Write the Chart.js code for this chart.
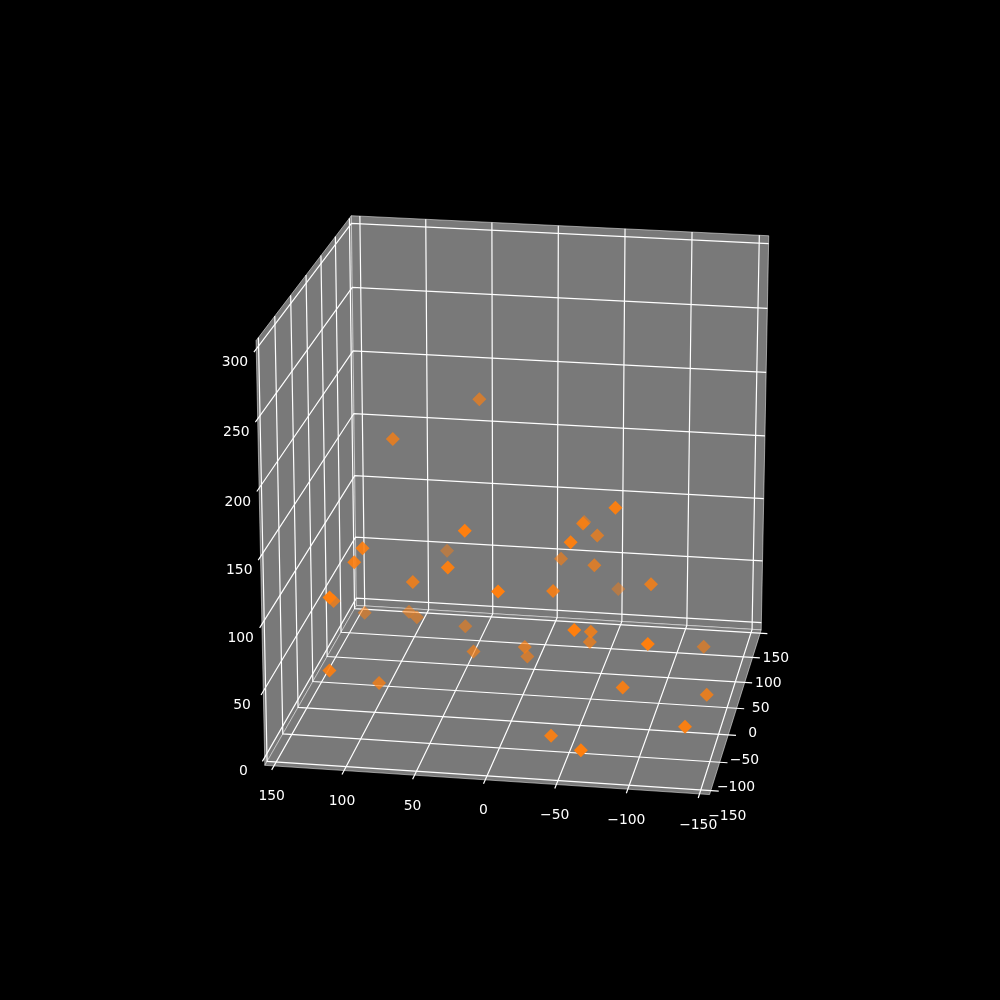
<!DOCTYPE html>
<html>
<head>
<meta charset="utf-8">
<script src="https://cdn.jsdelivr.net/npm/chart.js@4"></script>
<style>
body { margin: 0; background: #000; }
canvas { display: block; }
</style>
</head>
<body>
<canvas id="c" width="1000" height="1000"></canvas>
<script>
// values
const xValues = [39, 92, 15, 84, 32, 98, 104, 110, 137, 73, -8, 137, 103, 97, 60, 44, 123, 104, 1, 6, -33, -17, -54, -50, -30, -52, -50, -85, -48, -99, -61, -56, -47, -112, -124, -87, -140, -135, -37, -66];
const yValues = [41, -14, -150, 150, -123, -95, -95, -150, -14, -41, -150, 95, 95, 95, 95, 41, -95, -14, 14, 55, -68, 68, -123, -41, 95, 14, 14, -123, 150, -41, -150, -41, 14, -150, 68, -95, -41, -123, -100, -150];
const zValues = [206, 191, 175, 46, 137, 137, 126, 120, 64, 93, 132, 13, 16, 12, 7, 9, 43, 2, 26, 2, 103, 76, 161, 145, 96, 116, 93, 188, 23, 102, 107, 63, 33, 100, 13, 44, 20, 29, 6, 18];

const xTicks = [150, 100, 50, 0, -50, -100, -150];
const yTicks = [150, 100, 50, 0, -50, -100, -150];
const zTicks = [0, 50, 100, 150, 200, 250, 300];

const xLim = [-157, 156.5];
const yLim = [-157, 157];
const zLim = [-6, 306];

// box corners (limit index x, y, z) and where they land on the page, used to fit the camera
const boxCorners = [
  [1, 0, 0, 265, 765.5],
  [0, 0, 0, 709, 795],
  [0, 1, 0, 761.5, 629.3],
  [1, 1, 0, 356.5, 605.5],
  [1, 0, 1, 256.5, 340],
  [1, 1, 1, 350.7, 216],
  [0, 1, 1, 769, 236]
];

function fitCamera() {
  const rows = [], rhs = [];
  boxCorners.forEach(c => {
    const X = xLim[c[0]], Y = yLim[c[1]], Z = zLim[c[2]], u = c[3], v = c[4];
    rows.push([X, Y, Z, 1, 0, 0, 0, 0, -u * X, -u * Y, -u * Z]);
    rhs.push(u);
    rows.push([0, 0, 0, 0, X, Y, Z, 1, -v * X, -v * Y, -v * Z]);
    rhs.push(v);
  });
  const n = 11, M = [];
  for (let i = 0; i < n; i++) {
    M[i] = [];
    for (let j = 0; j < n; j++) {
      let s = 0;
      rows.forEach(r => s += r[i] * r[j]);
      M[i][j] = s;
    }
    let s = 0;
    rows.forEach((r, k) => s += r[i] * rhs[k]);
    M[i][n] = s;
  }
  for (let i = 0; i < n; i++) {
    let p = i;
    for (let k = i + 1; k < n; k++) if (Math.abs(M[k][i]) > Math.abs(M[p][i])) p = k;
    [M[i], M[p]] = [M[p], M[i]];
    for (let k = 0; k < n; k++) {
      if (k === i) continue;
      const f = M[k][i] / M[i][i];
      for (let j = i; j <= n; j++) M[k][j] -= f * M[i][j];
    }
  }
  return M.map((r, i) => r[n] / r[i]);
}

const h = fitCamera();

function project(x, y, z) {
  const w = h[8] * x + h[9] * y + h[10] * z + 1;
  return {
    x: (h[0] * x + h[1] * y + h[2] * z + h[3]) / w,
    y: (h[4] * x + h[5] * y + h[6] * z + h[7]) / w
  };
}

const [x0, x1] = xLim, [y0, y1] = yLim, [z0, z1] = zLim;
const tickLen = 7;
const datasets = [];

function addLine(path, color, width, order, extra) {
  datasets.push(Object.assign({
    data: path.map(p => project(p[0], p[1], p[2])),
    showLine: true,
    pointRadius: 0,
    borderColor: color,
    borderWidth: width,
    order: order
  }, extra || {}));
}

// panes
const panes = [
  [[x0, y0, z0], [x1, y0, z0], [x1, y1, z0], [x0, y1, z0], [x0, y0, z0]],
  [[x0, y1, z0], [x1, y1, z0], [x1, y1, z1], [x0, y1, z1], [x0, y1, z0]],
  [[x1, y0, z0], [x1, y1, z0], [x1, y1, z1], [x1, y0, z1], [x1, y0, z0]]
];
panes.forEach(p => addLine(p, "rgba(255,255,255,0.5)", 1, 5, { fill: "shape", backgroundColor: "#797979" }));

// grid
xTicks.forEach(t => addLine([[t, y0 - tickLen, z0], [t, y1, z0], [t, y1, z1]], "#fff", 1.2, 3));
yTicks.forEach(t => addLine([[x0 - 5.5, t, z0], [x1, t, z0], [x1, t, z1]], "#fff", 1.2, 3));
zTicks.forEach(t => addLine([[x0, y1, t], [x1, y1, t], [x1, y0 - tickLen, t]], "#fff", 1.2, 3));

// far points first so the near ones end up on top
const order = xValues.map((_, i) => i).sort((a, b) => yValues[b] - yValues[a]);
datasets.push({
  data: order.map(i => project(xValues[i], yValues[i], zValues[i])),
  pointStyle: "rectRot",
  pointRadius: 7,
  pointBorderWidth: 0,
  pointBackgroundColor: order.map(i => "rgba(255,127,14," + (1 - 0.55 * (yValues[i] + 150) / 300) + ")"),
  order: 0
});

const tickLabels = {
  id: "tickLabels",
  afterDatasetsDraw(chart) {
    const { ctx, scales } = chart;
    const put = (t, p, dx, dy) => {
      ctx.fillText(String(t).replace("-", "\u2212"), scales.x.getPixelForValue(p.x) + dx, scales.y.getPixelForValue(p.y) + dy);
    };
    ctx.save();
    ctx.fillStyle = "#fff";
    ctx.font = '13.9px "DejaVu Sans"';
    ctx.textAlign = "center";
    ctx.textBaseline = "middle";
    xTicks.forEach(t => put(t, project(t, y0 - tickLen, z0), 0, 27));
    yTicks.forEach(t => put(t, project(x0 - 5.5, t, z0), 8.5, 25));
    zTicks.forEach(t => put(t, project(x1, y0 - tickLen, t), -19, 10.5));
    ctx.restore();
  }
};

new Chart(document.getElementById("c"), {
  type: "scatter",
  data: { datasets },
  plugins: [tickLabels],
  options: {
    responsive: false,
    animation: false,
    devicePixelRatio: 1,
    layout: { padding: 0, autoPadding: false },
    plugins: { legend: { display: false }, tooltip: { enabled: false } },
    scales: {
      x: { display: false, min: 0, max: 1000 },
      y: { display: false, min: 0, max: 1000, reverse: true }
    }
  }
});
</script>
</body>
</html>
